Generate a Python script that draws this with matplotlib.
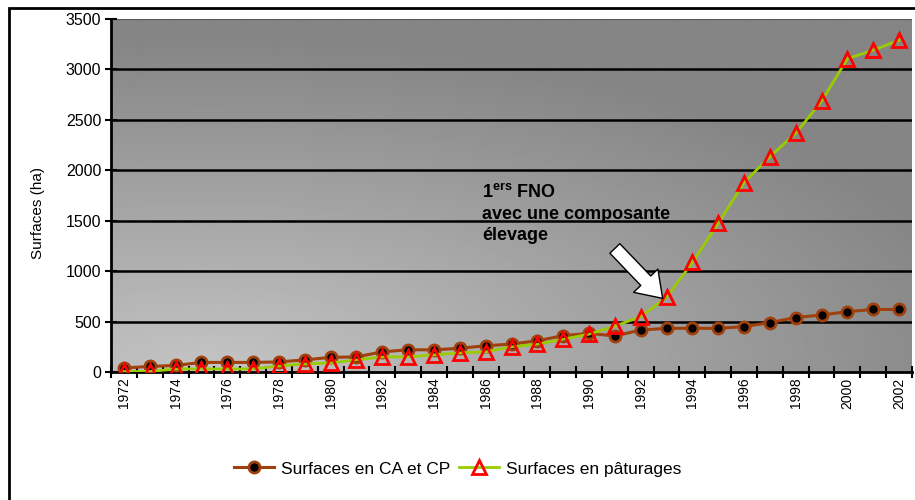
import numpy as np
import matplotlib
matplotlib.use("Agg")
import matplotlib.pyplot as plt
from matplotlib.patches import Rectangle

plt.rcParams['font.family'] = ['Liberation Sans', 'DejaVu Sans']
plt.rcParams['mathtext.fontset'] = 'custom'
plt.rcParams['mathtext.bf'] = 'Liberation Sans:bold'
plt.rcParams['mathtext.rm'] = 'Liberation Sans'

years = list(range(1972, 2003))
surf_ca_cp = [40, 55, 65, 95, 95, 95, 100, 120, 145, 150, 200, 220, 220, 235, 260,
              277, 310, 360, 383, 357, 416, 433, 433, 433, 450, 490, 540, 565, 598, 620, 620]
surf_paturages = [5, 5, 30, 30, 30, 30, 60, 80, 90, 120, 150, 150, 170, 190, 200,
                  250, 275, 325, 375, 455, 550, 740, 1086, 1475, 1878, 2136, 2366, 2686, 3106, 3191, 3290]
year_labels = [str(y) if (y - 1972) % 2 == 0 else '' for y in years]
yticks = [0, 500, 1000, 1500, 2000, 2500, 3000, 3500]

fig = plt.figure(figsize=(9.15, 5.0), dpi=100)
fig.patch.set_facecolor('white')

# outer frame
fig.patches.append(Rectangle((9 / 915, -0.2), 1.2, 1.2 - 8 / 500,
                             transform=fig.transFigure, fill=False,
                             edgecolor='black', linewidth=2, zorder=0))

ax = fig.add_axes([111 / 915, 1 - 372 / 500, (912 - 111) / 915, (372 - 19) / 500])

x = np.arange(len(years))
ax.set_xlim(-0.5, len(years) - 0.5)
ax.set_ylim(0, 3500)

# gradient background
nx, ny = 300, 200
u = np.linspace(0, 1, nx)
w = np.linspace(0, 1, ny)
U, W = np.meshgrid(u, w)
d = np.sqrt(((U - 0.12) / 1.0) ** 2 + (W / 0.95) ** 2)
val = 0.77 - 0.25 * np.clip(d, 0, 1)
ax.imshow(val, cmap='gray', vmin=0, vmax=1, origin='lower',
          extent=[-0.5, len(years) - 0.5, 0, 3500], aspect='auto',
          interpolation='bilinear', zorder=0)

for yv in yticks[1:-1]:
    ax.axhline(yv, color='black', linewidth=1.8, zorder=1)
ax.axhline(3500, color='#555555', linewidth=1.5, zorder=1)

ax.plot(x, surf_ca_cp, color='#A0400C', linewidth=2.2, marker='o',
        markersize=8, markerfacecolor='black', markeredgecolor='#A0400C',
        markeredgewidth=2, zorder=3, label='Surfaces en CA et CP')
ax.plot(x, surf_paturages, color='#99CC00', linewidth=2, marker='^',
        markersize=10, markerfacecolor='none', markeredgecolor='#FF0000',
        markeredgewidth=2, zorder=4, label='Surfaces en pâturages')

ax.set_yticks(yticks)
ax.set_yticklabels([str(v) for v in yticks], fontsize=11.5)
ax.set_xticks(x)
ax.set_xticklabels(year_labels, rotation=90, fontsize=10)
ax.set_xticks(np.arange(-0.5, len(years), 1), minor=True)
ax.tick_params(axis='x', which='major', length=0, pad=4)
ax.tick_params(axis='x', which='minor', direction='inout', length=8, width=1.5)
ax.tick_params(axis='y', direction='inout', length=8, width=1.5, pad=3)

for s in ['top', 'right']:
    ax.spines[s].set_visible(False)
ax.spines['left'].set_linewidth(2)
ax.spines['bottom'].set_linewidth(2)

ax.set_ylabel('Surfaces (ha)', fontsize=11)
ax.yaxis.set_label_coords(-0.082, 0.45)

# annotation
tx = 13.85
afs = 13
ax.text(tx, 1774, r'1$^{\mathbf{ers}}$ FNO', fontsize=afs, fontweight='bold',
        va='center', ha='left', zorder=5)
ax.text(tx, 1566, 'avec une composante', fontsize=afs, fontweight='bold',
        va='center', ha='left', zorder=5)
ax.text(tx, 1358, 'élevage', fontsize=afs, fontweight='bold',
        va='center', ha='left', zorder=5)
ax.annotate('', xy=(20.85, 730), xytext=(19.0, 1225),
            arrowprops=dict(arrowstyle='simple,head_length=0.8,head_width=1.1,tail_width=0.45',
                            mutation_scale=22, fc='white', ec='black', lw=1,
                            shrinkA=0, shrinkB=0),
            zorder=5)

leg = fig.legend(loc='center', bbox_to_anchor=(0.5, 1 - 469 / 500), ncol=2,
                 frameon=False, fontsize=12.5, handlelength=2.3, columnspacing=0.5,
                 handletextpad=0.4)

fig.savefig('out.png', dpi=100, facecolor='white')
